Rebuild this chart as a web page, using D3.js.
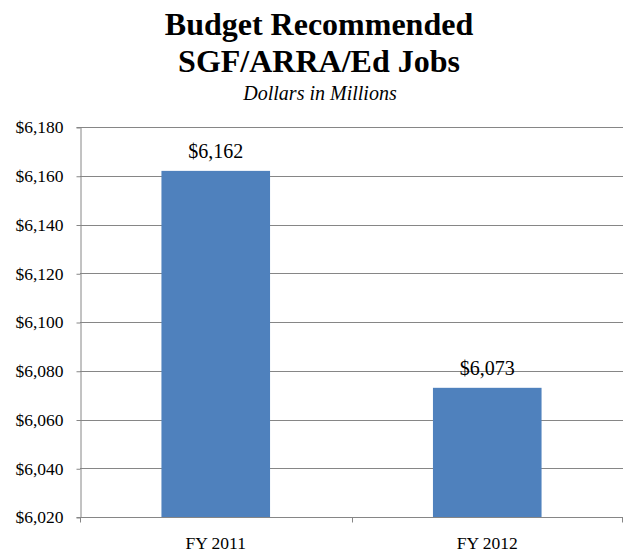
<!DOCTYPE html>
<html>
<head>
<meta charset="utf-8">
<script src="https://cdn.jsdelivr.net/npm/d3@7"></script>
<style>
  html, body { margin: 0; padding: 0; background: #fff; }
  svg { display: block; }
</style>
</head>
<body>
<svg id="chart" width="624" height="552"></svg>
<script>
// Chart data
const categories = ["FY 2011", "FY 2012"];
const values = [6162, 6073];
const yTicks = [6020, 6040, 6060, 6080, 6100, 6120, 6140, 6160, 6180];
const titleLines = ["Budget Recommended", "SGF/ARRA/Ed Jobs"];
const subtitle = "Dollars in Millions";

const FONT = "'Liberation Serif', 'Times New Roman', serif";
const svg = d3.select("#chart").style("font-family", FONT);
const margin = { left: 80, right: 1, top: 127, bottom: 35 };
const W = 624, H = 552;

const x = d3.scaleBand()
  .domain(categories)
  .range([margin.left, W - margin.right])
  .paddingInner(0.6)
  .paddingOuter(0.3);

const y = d3.scaleLinear()
  .domain([6020, 6180])
  .range([H - margin.bottom, margin.top]);

const fmt = v => "$" + d3.format(",")(v);
const gridColor = "#868686";

// Horizontal gridlines
svg.append("g")
  .selectAll("line")
  .data(yTicks.slice(1))
  .join("line")
  .attr("x1", margin.left)
  .attr("x2", W - margin.right)
  .attr("y1", d => Math.round(y(d)) + 0.5)
  .attr("y2", d => Math.round(y(d)) + 0.5)
  .attr("stroke", gridColor)
  .attr("stroke-width", 1);

// Bars
svg.append("g")
  .selectAll("rect")
  .data(values)
  .join("rect")
  .attr("x", (d, i) => x(categories[i]))
  .attr("width", x.bandwidth())
  .attr("y", d => y(d))
  .attr("height", d => y(6020) - y(d))
  .attr("fill", "#4F81BD");

// Value labels
svg.append("g")
  .selectAll("text")
  .data(values)
  .join("text")
  .attr("x", (d, i) => x(categories[i]) + x.bandwidth() / 2)
  .attr("y", d => y(d) - 13)
  .attr("text-anchor", "middle")
  .style("font-family", FONT)
  .style("font-size", "20px")
  .attr("fill", "#000")
  .text(d => fmt(d));

// Y axis
const yAxis = d3.axisLeft(y)
  .tickValues(yTicks)
  .tickFormat(fmt)
  .tickSize(4)
  .tickPadding(13);
const gy = svg.append("g")
  .attr("transform", `translate(${margin.left + 0.5},0)`)
  .call(yAxis);
gy.attr("font-family", null);
gy.selectAll(".tick line").attr("stroke", gridColor).attr("transform", "translate(0,0.5)");
gy.select(".domain").attr("stroke", gridColor);
gy.selectAll("text")
  .style("font-family", FONT)
  .style("font-size", "17.5px")
  .attr("fill", "#000")
  .attr("dy", "0.34em");

// X axis with boundary ticks between categories
const xAxisY = Math.round(y(6020)) + 0.5;
const gx = svg.append("g");
gx.append("line")
  .attr("x1", margin.left).attr("x2", W - margin.right)
  .attr("y1", xAxisY).attr("y2", xAxisY)
  .attr("stroke", gridColor);
const step = x.step();
const boundaries = [margin.left, margin.left + step, margin.left + 2 * step - 1];
gx.selectAll("line.tk")
  .data(boundaries)
  .join("line")
  .attr("class", "tk")
  .attr("x1", d => Math.round(d) + 0.5).attr("x2", d => Math.round(d) + 0.5)
  .attr("y1", xAxisY).attr("y2", xAxisY + 5)
  .attr("stroke", gridColor);
gx.selectAll("text")
  .data(categories)
  .join("text")
  .attr("x", d => x(d) + x.bandwidth() / 2)
  .attr("y", 549)
  .attr("text-anchor", "middle")
  .style("font-family", FONT)
  .style("font-size", "17.5px")
  .attr("fill", "#000")
  .text(d => d);

// Title
svg.append("g")
  .selectAll("text")
  .data(titleLines)
  .join("text")
  .attr("x", 319)
  .attr("y", (d, i) => 34.5 + i * 37.5)
  .attr("text-anchor", "middle")
  .style("font-family", FONT)
  .style("font-size", "32px")
  .style("font-weight", "bold")
  .attr("fill", "#000")
  .text(d => d);

svg.append("text")
  .attr("x", 320)
  .attr("y", 100)
  .attr("text-anchor", "middle")
  .style("font-family", FONT)
  .style("font-size", "20px")
  .style("font-style", "italic")
  .attr("fill", "#000")
  .text(subtitle);
</script>
</body>
</html>
